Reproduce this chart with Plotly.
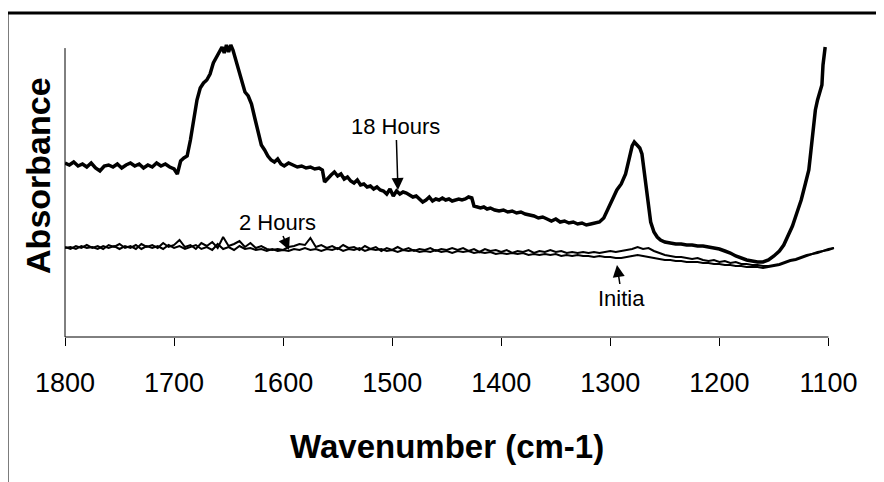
import plotly.graph_objects as go

# ---------------- data ----------------
# 18 Hours spectrum: wavenumber (cm-1) and absorbance (arbitrary milli-units)
wn_18h = [1800, 1796, 1792, 1788, 1784, 1780, 1776, 1772, 1768, 1764, 1760, 1756, 1752, 1748, 1744, 1740,
          1736, 1732, 1728, 1724, 1720, 1716, 1712, 1708, 1704, 1700, 1697, 1694, 1691, 1688, 1685, 1682,
          1679, 1676, 1673, 1670, 1667, 1664, 1661, 1658, 1656, 1654, 1652, 1650, 1648, 1646, 1644, 1641,
          1638, 1635, 1632, 1629, 1626, 1623, 1620, 1617, 1614, 1611, 1608, 1605, 1602, 1599, 1595, 1591,
          1587, 1583, 1579, 1575, 1571, 1567, 1564, 1562, 1559, 1556, 1553, 1550, 1547, 1544, 1541, 1538,
          1535, 1532, 1529, 1526, 1523, 1520, 1517, 1514, 1511, 1508, 1505, 1502, 1499, 1496, 1493, 1490,
          1487, 1484, 1481, 1478, 1475, 1472, 1469, 1466, 1463, 1460, 1457, 1454, 1451, 1448, 1445, 1442,
          1439, 1436, 1433, 1430, 1427, 1425, 1422, 1419, 1416, 1413, 1410, 1406, 1402, 1398, 1394, 1390,
          1386, 1382, 1378, 1374, 1370, 1366, 1362, 1358, 1354, 1350, 1346, 1342, 1338, 1334, 1330, 1326,
          1322, 1318, 1314, 1310, 1306, 1302, 1298, 1294, 1290, 1286, 1283, 1280, 1278, 1276, 1273, 1271,
          1269, 1267, 1265, 1263, 1260, 1257, 1254, 1250, 1245, 1240, 1235, 1230, 1225, 1220, 1215, 1210,
          1205, 1200, 1195, 1190, 1185, 1180, 1175, 1170, 1165, 1160, 1155, 1150, 1145, 1141, 1137, 1133,
          1129, 1125, 1121, 1118, 1116, 1114, 1112, 1110, 1108, 1106, 1105, 1103]
abs_18h = [174, 172, 175, 171, 173, 170, 174, 169, 166, 171, 172, 170, 173, 169, 172, 174,
           171, 173, 169, 172, 170, 174, 171, 173, 170, 168, 163, 176, 179, 181, 197, 217,
           237, 249, 254, 257, 263, 274, 280, 287, 290, 284, 292, 285, 292, 287, 279, 267,
           255, 245, 241, 233, 219, 205, 192, 187, 181, 177, 175, 178, 173, 171, 174, 172,
           170, 171, 169, 170, 168, 169, 167, 155, 159, 162, 165, 161, 163, 158, 160, 156,
           154, 157, 152, 153, 150, 151, 148, 150, 147, 146, 143, 148, 141, 146, 143, 145,
           144, 142, 140, 141, 138, 135, 137, 140, 136, 138, 137, 139, 137, 138, 136, 137,
           138, 137, 138, 140, 139, 131, 130, 129, 130, 128, 129, 127, 126, 127, 125, 126,
           124, 125, 123, 122, 121, 119, 120, 118, 116, 118, 115, 116, 114, 115, 113, 114,
           112, 113, 114, 115, 119, 129, 139, 147, 153, 163, 177, 191, 195, 193, 189, 183,
           167, 151, 132, 115, 105, 100, 97, 95, 94, 93, 93, 92, 92, 91, 91, 90,
           89, 88, 86, 84, 81, 79, 77, 76, 75, 75, 77, 81, 86, 92, 101, 111,
           124, 137, 154, 167, 187, 212, 227, 237, 245, 252, 272, 290]

# 2 Hours and Initial spectra, sampled every 5 cm-1 from 1800 to 1095
wn_grid = list(range(1800, 1094, -5))
abs_2h = [90, 88, 91, 89, 92, 89, 91, 88, 92, 90,
          93, 89, 91, 88, 93, 90, 92, 89, 94, 90,
          92, 97, 90, 92, 88, 94, 91, 95, 89, 100,
          91, 93, 96, 90, 94, 89, 91, 88, 87, 88,
          87, 90, 91, 93, 92, 99, 90, 92, 89, 91,
          88, 92, 89, 90, 87, 91, 88, 90, 86, 89,
          87, 90, 87, 89, 86, 88, 87, 89, 86, 88,
          87, 89, 87, 89, 86, 88, 85, 88, 86, 87,
          85, 87, 84, 86, 85, 87, 84, 86, 85, 87,
          85, 86, 84, 85, 84, 85, 84, 85, 84, 85,
          86, 85, 86, 87, 88, 90, 88, 89, 86, 84,
          82, 81, 80, 80, 79, 78, 79, 77, 76, 77,
          75, 76, 74, 75, 73, 73, 72, 72, 71, 71,
          72, 73, 75, 77, 78, 80, 82, 83, 85, 86,
          88, 89]
abs_initial = [89, 90, 88, 91, 89, 90, 88, 91, 89, 91,
               88, 91, 89, 92, 88, 91, 89, 91, 88, 92,
               89, 91, 88, 90, 92, 88, 90, 87, 93, 88,
               90, 87, 91, 88, 89, 87, 88, 86, 88, 86,
               87, 86, 88, 87, 89, 87, 88, 86, 88, 87,
               89, 86, 88, 87, 89, 86, 88, 87, 88, 86,
               87, 85, 87, 86, 87, 85, 86, 85, 87, 85,
               86, 84, 86, 85, 86, 84, 85, 84, 85, 83,
               84, 83, 84, 83, 84, 82, 83, 82, 83, 82,
               83, 81, 82, 81, 82, 81, 81, 80, 81, 80,
               80, 79, 79, 80, 81, 82, 81, 80, 79, 78,
               77, 77, 76, 76, 75, 75, 75, 74, 74, 73,
               73, 72, 72, 71, 71, 70, 70, 70, 69, 70,
               71, 72, 74, 76, 77, 79, 81, 83, 84, 86,
               87, 89]
assert len(wn_grid) == len(abs_2h) == len(abs_initial)
assert len(wn_18h) == len(abs_18h)

tick_vals = [1800, 1700, 1600, 1500, 1400, 1300, 1200, 1100]
tick_text = [str(v) for v in tick_vals]

FONT = "Liberation Sans, Arial, sans-serif"

fig = go.Figure()
fig.add_trace(go.Scatter(x=wn_grid, y=abs_initial, mode="lines", name="Initial",
                         line=dict(color="black", width=2)))
fig.add_trace(go.Scatter(x=wn_grid, y=abs_2h, mode="lines", name="2 Hours",
                         line=dict(color="black", width=2)))
fig.add_trace(go.Scatter(x=wn_18h, y=abs_18h, mode="lines", name="18 Hours",
                         line=dict(color="black", width=3.5)))

# page body has an 8px margin, so the figure is 8px smaller and shifted
fig.update_layout(
    width=876, height=474,
    margin=dict(l=57, r=49, t=36, b=145),
    paper_bgcolor="white", plot_bgcolor="white",
    showlegend=False,
    font=dict(family=FONT, color="black"),
    xaxis=dict(range=[1800, 1094], tickvals=tick_vals, ticktext=tick_text,
               ticks="outside", ticklen=8, tickwidth=1, tickcolor="black",
               showgrid=False, zeroline=False, showline=False,
               tickfont=dict(size=27, family=FONT, color="black"),
               ticklabelstandoff=14),
    yaxis=dict(range=[0, 293], showticklabels=False, ticks="", showgrid=False,
               zeroline=False, showline=False),
)

shapes = [
    # y axis line
    dict(type="line", xref="paper", yref="paper", x0=0, x1=0, y0=0, y1=0.986,
         line=dict(color="black", width=1)),
    # x axis line
    dict(type="line", xref="x", yref="paper", x0=1800, x1=1100, y0=0, y1=0,
         line=dict(color="black", width=1)),
    # outer frame (left and top)
    dict(type="line", xref="paper", yref="paper", x0=-0.0753, x1=-0.0753, y0=-0.6, y1=1.1058,
         line=dict(color="black", width=3)),
    dict(type="line", xref="paper", yref="paper", x0=-0.0753, x1=1.08, y0=1.1058, y1=1.1058,
         line=dict(color="black", width=3)),
]
fig.update_layout(shapes=shapes)

arrow_style = dict(showarrow=True, arrowhead=2, arrowsize=1.6, arrowwidth=1.5,
                   arrowcolor="black", standoff=0, font=dict(size=22, family=FONT, color="black"))
annotations = [
    dict(x=1494.7, y=147, xref="x", yref="y", text="18 Hours", ax=-2, ay=-64, **arrow_style),
    dict(x=1594.6, y=87, xref="x", yref="y", text="2 Hours", ax=-12, ay=-28, **arrow_style),
    dict(x=1293.9, y=72, xref="x", yref="y", text="Initia", ax=5, ay=33, **arrow_style),
    dict(x=0.4955, y=-0.3754, xref="paper", yref="paper", text="<b>Wavenumber (cm-1)</b>",
         showarrow=False, xanchor="center", yanchor="middle",
         font=dict(size=33, family=FONT, color="black")),
    dict(x=-0.0351, y=0.553, xref="paper", yref="paper", text="<b>Absorbance</b>",
         showarrow=False, xanchor="center", yanchor="middle", textangle=-90,
         font=dict(size=34, family=FONT, color="black")),
]
fig.update_layout(annotations=annotations)

fig.write_html("out.html")
